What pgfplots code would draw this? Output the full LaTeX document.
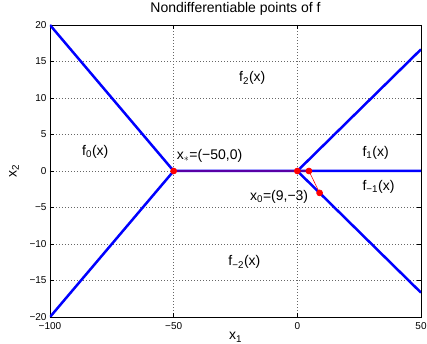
\documentclass[border=0pt]{standalone}
\usepackage{pgfplots}
\pgfplotsset{compat=1.18}
\usepackage{fontspec}
\setmainfont{Liberation Sans}
\begin{document}
\begin{tikzpicture}
\begin{axis}[
  scale only axis, width=371pt, height=292pt,
  xmin=-100, xmax=50, ymin=-20, ymax=20,
  xtick={-100,-50,0,50}, xticklabels={−100,−50,0,50},
  ytick={-20,-15,-10,-5,0,5,10,15,20},
  yticklabels={−20,−15,−10,−5,0,5,10,15,20},
  tick align=inside, major tick length=4pt,
  grid=major, grid style={black!60, line width=0.5pt, dash pattern=on 0.8pt off 2.2pt},
  axis line style={line width=0.8pt},
  tick style={black, line width=0.6pt},
  ticklabel style={font=\fontsize{10}{12}\selectfont},
  xticklabel style={yshift=-2pt},
  title={Nondifferentiable points of f},
  title style={font=\fontsize{14}{16}\selectfont, at={(0.5,1)}, anchor=base, yshift=6pt},
  xlabel={x\textsubscript{1}},
  xlabel style={font=\fontsize{14}{16}\selectfont, at={(0.5,0)}, anchor=base, yshift=-23pt},
  ylabel={x\textsubscript{2}},
  ylabel style={font=\fontsize{14}{16}\selectfont, at={(-0.09,0.5)}, anchor=base},
]
\addplot[blue, line width=2.5pt] coordinates {(-100,20) (-50,0) (50,0)};
\addplot[blue, line width=2.5pt] coordinates {(-100,-20) (-50,0)};
\addplot[blue, line width=2.5pt] coordinates {(0,0) (50,16.667)};
\addplot[blue, line width=2.5pt] coordinates {(0,0) (50,-16.667)};
\addplot[red, line width=0.6pt, mark=*, mark size=3pt, mark options={fill=red, draw=red}] coordinates {(9,-3) (4.7,0) (0,0) (-50,0)};
\begin{scope}[every node/.style={font=\fontsize{14}{16}\selectfont, inner sep=0pt}]
\node[anchor=center] at (axis cs:-18.2,12.7) {f\textsubscript{2}(x)};
\node[anchor=center] at (axis cs:-81.7,2.6) {f\textsubscript{0}(x)};
\node[anchor=west] at (axis cs:-48.8,2.05) {x$_{*}$=(−50,0)};
\node[anchor=west] at (axis cs:26.3,2.47) {f\textsubscript{1}(x)};
\node[anchor=west] at (axis cs:26.3,-2.2) {f\textsubscript{−1}(x)};
\node[anchor=east] at (axis cs:4.45,-3.56) {x\textsubscript{0}=(9,−3)};
\node[anchor=center] at (axis cs:-21.4,-12.5) {f\textsubscript{−2}(x)};
\end{scope}
\end{axis}
\pgfresetboundingbox
\path ([shift={(-50pt,-27pt)}]current axis.south west) rectangle ([shift={(6pt,25pt)}]current axis.north east);
\end{tikzpicture}
\end{document}
